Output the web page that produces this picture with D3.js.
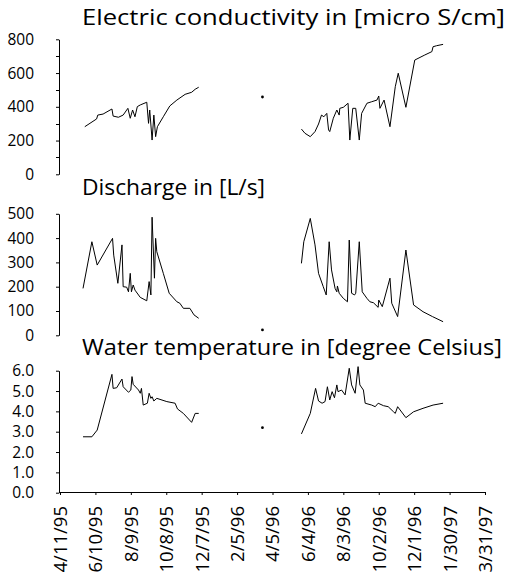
<!DOCTYPE html>
<meta charset="utf-8">
<style>
body { margin: 0; background: #fff; }
text { font-family: "Open Sans", "Liberation Sans", sans-serif; fill: #000; }
.line { fill: none; stroke: #000; stroke-width: 1; }
.axis path, .axis line { stroke: #000; }
</style>
<svg width="510" height="573"></svg>
<script src="https://d3js.org/d3.v7.min.js"></script>
<script>

var parse = d3.timeParse("%m/%d/%y");

var xTickLabels = ["4/11/95","6/10/95","8/9/95","10/8/95","12/7/95","2/5/96","4/5/96",
  "6/4/96","8/3/96","10/2/96","12/1/96","1/30/97","3/31/97"];

var titles = ["Electric conductivity in [micro S/cm]", "Discharge in [L/s]",
  "Water temperature in [degree Celsius]"];

// electric conductivity
var condDates = ["5/23/95","6/12/95","6/14/95","6/23/95","7/8/95","7/10/95","7/19/95","7/27/95","8/4/95","8/8/95",
  "8/12/95","8/16/95","8/20/95","8/25/95","9/5/95","9/8/95","9/10/95","9/14/95","9/17/95","9/20/95",
  "9/23/95","10/3/95","10/14/95","10/26/95","11/9/95","11/20/95","11/26/95","12/2/95",
  "3/19/96",
  "5/24/96","5/30/96","6/8/96","6/16/96","6/22/96","6/27/96","7/1/96","7/6/96","7/9/96","7/11/96",
  "7/17/96","7/23/96","7/27/96","7/28/96","8/3/96","8/11/96","8/14/96","8/19/96","8/24/96","8/30/96",
  "9/3/96","9/12/96","9/20/96","9/29/96","10/2/96","10/4/96","10/11/96","10/21/96","10/30/96","11/4/96",
  "11/17/96","12/2/96","12/19/96","12/31/96","1/2/97","1/8/97","1/19/97"];
var condValues = [282,328,351,357,387,345,338,351,391,332,
  381,341,401,411,427,302,381,203,351,223,
  282,341,405,440,474,486,504,516,
  458,
  268,243,223,253,298,351,341,361,263,253,
  332,381,351,391,397,421,203,391,391,203,
  361,421,430,440,464,391,440,282,519,599,
  397,677,707,727,756,762,770];

// discharge
var flowDates = ["5/20/95","6/4/95","6/13/95","7/9/95","7/11/95","7/18/95","7/25/95","7/27/95","8/2/95","8/5/95",
  "8/8/95","8/10/95","8/13/95","8/16/95","8/25/95","9/5/95","9/9/95","9/12/95","9/14/95","9/18/95",
  "9/20/95","9/22/95","10/3/95","10/13/95","10/26/95","10/31/95","11/6/95","11/17/95","11/24/95","12/2/95",
  "3/19/96",
  "5/24/96","5/28/96","6/8/96","6/16/96","6/22/96","6/30/96","7/5/96","7/10/96","7/14/96","7/20/96",
  "7/23/96","7/24/96","7/27/96","8/3/96","8/10/96","8/13/96","8/17/96","8/22/96","8/24/96","8/30/96",
  "9/4/96","9/12/96","9/17/96","9/23/96","10/1/96","10/2/96","10/8/96","10/21/96","10/24/96","11/3/96",
  "11/17/96","11/30/96","12/16/96","1/1/97","1/19/97"];
var flowValues = [193,385,289,399,330,214,372,200,198,179,
  255,179,207,186,156,142,221,166,486,235,
  399,344,255,173,138,132,111,111,84,70,
  22,
  296,385,481,372,255,200,166,385,269,193,
  179,203,173,152,138,392,173,166,173,385,
  179,152,138,134,115,145,118,235,132,77,
  351,125,97,77,56];

// water temperature
var tempDates = ["5/20/95","6/4/95","6/13/95","7/8/95","7/10/95","7/16/95","7/25/95","7/27/95","8/5/95","8/9/95",
  "8/11/95","8/13/95","8/22/95","8/25/95","8/27/95","8/30/95","9/6/95","9/9/95","9/12/95","9/14/95",
  "9/17/95","9/22/95","10/9/95","10/23/95","10/27/95","11/6/95","11/20/95","11/26/95","12/2/95",
  "3/19/96",
  "5/24/96","6/8/96","6/17/96","6/22/96","6/28/96","7/3/96","7/7/96","7/11/96","7/15/96","7/19/96",
  "7/23/96","7/25/96","7/31/96","8/6/96","8/13/96","8/17/96","8/23/96","8/28/96","8/31/96","9/6/96",
  "9/9/96","9/20/96","9/26/96","10/1/96","10/10/96","10/18/96","10/27/96","10/30/96","11/3/96","11/17/96",
  "11/30/96","12/16/96","1/2/97","1/19/97"];
var tempValues = [2.75,2.75,3.08,5.82,5.13,5.16,5.59,5.21,4.94,5.05,
  5.71,5.33,5.05,4.89,5.13,4.31,4.40,4.89,4.64,4.72,
  4.51,4.64,4.48,4.40,4.12,3.90,3.46,3.90,3.90,
  3.2,
  2.89,3.90,5.13,4.51,4.40,4.48,5.21,4.56,4.97,4.67,
  5.30,4.97,5.05,4.81,6.12,5.30,4.89,6.20,5.30,5.05,
  4.40,4.31,4.23,4.40,4.28,4.23,3.98,3.90,4.23,3.69,
  3.98,4.15,4.31,4.40];

var svg = d3.select("svg");

var x = d3.scaleTime()
    .domain([parse(xTickLabels[0]), parse(xTickLabels[xTickLabels.length - 1])])
    .range([60, 485]);

var panels = [
  {title: titles[0], dates: condDates, values: condValues, domain: [0, 800], range: [174.3, 39.3],
   ticks: d3.range(0, 801, 200), minor: d3.range(100, 800, 200), fmt: d3.format("d"), titleY: 25, titleW: 423},
  {title: titles[1], dates: flowDates, values: flowValues, domain: [0, 500], range: [335.3, 213.8],
   ticks: d3.range(0, 501, 100), minor: [], fmt: d3.format("d"), titleY: 195, titleW: 183},
  {title: titles[2], dates: tempDates, values: tempValues, domain: [0, 6], range: [492.7, 370.7],
   ticks: d3.range(0, 7, 1), minor: [], fmt: d3.format(".1f"), titleY: 355, titleW: 420}
];

// split the measurements where there is a long break in sampling
function segments(dates, values) {
  var pts = dates.map(function(d, i) { return {date: parse(d), value: values[i]}; });
  var out = [], cur = [];
  pts.forEach(function(p, i) {
    if (i > 0 && (p.date - pts[i - 1].date) / 864e5 > 45) { out.push(cur); cur = []; }
    cur.push(p);
  });
  out.push(cur);
  return out;
}

panels.forEach(function(p) {
  var y = d3.scaleLinear().domain(p.domain).range(p.range);

  var g = svg.append("g");

  g.append("text")
      .attr("x", 82)
      .attr("y", p.titleY)
      .attr("font-size", 21.5)
      .attr("textLength", p.titleW)
      .attr("lengthAdjust", "spacingAndGlyphs")
      .text(p.title);

  g.append("g")
      .attr("class", "axis")
      .attr("transform", "translate(59,0)")
      .call(d3.axisLeft(y).tickValues(p.ticks).tickFormat(p.fmt).tickSize(3).tickSizeOuter(0).tickPadding(22))
      .call(function(a) {
        a.selectAll("text").attr("font-size", 15.5).attr("font-family", null);
      });

  g.selectAll(".minor")
      .data(p.minor)
      .enter().append("line")
      .attr("stroke", "#000")
      .attr("x1", 56).attr("x2", 59)
      .attr("y1", function(d) { return Math.round(y(d)) + 0.5; })
      .attr("y2", function(d) { return Math.round(y(d)) + 0.5; });

  var line = d3.line()
      .x(function(d) { return x(d.date); })
      .y(function(d) { return y(d.value); });

  segments(p.dates, p.values).forEach(function(seg) {
    if (seg.length > 1) {
      g.append("path").attr("class", "line").attr("d", line(seg));
    } else {
      g.append("circle")
          .attr("cx", x(seg[0].date))
          .attr("cy", y(seg[0].value))
          .attr("r", 1.4)
          .attr("fill", "#000");
    }
  });
});

// time axis at the bottom
svg.append("g")
    .attr("class", "axis")
    .attr("transform", "translate(0,492)")
    .call(d3.axisBottom(x)
      .tickValues(xTickLabels.map(parse))
      .tickFormat(function(d, i) { return xTickLabels[i]; })
      .tickSize(3).tickSizeOuter(0))
    .call(function(a) {
      a.selectAll("text")
          .attr("font-size", 18.5)
          .attr("font-family", null)
          .attr("transform", "rotate(-90)")
          .attr("text-anchor", "end")
          .attr("x", -14)
          .attr("y", 0)
          .attr("dy", "0.35em");
    });

</script>
